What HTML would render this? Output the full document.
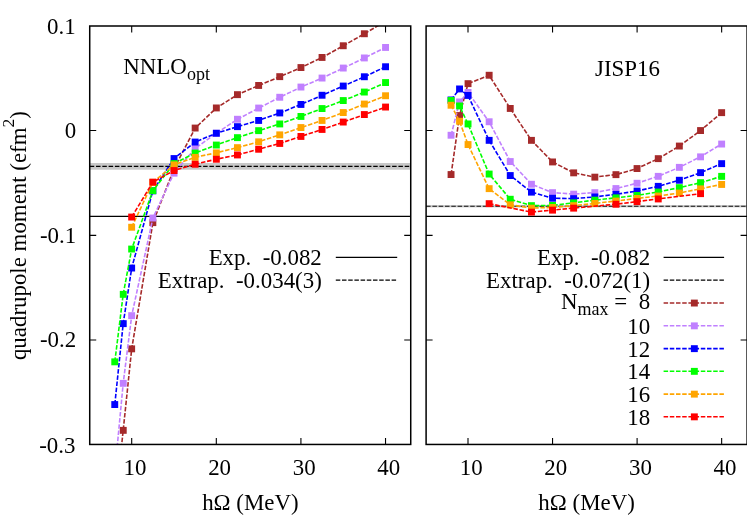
<!DOCTYPE html>
<html><head><meta charset="utf-8"><title>chart</title><style>html,body{margin:0;padding:0;background:#fff}body{width:747px;height:523px;overflow:hidden;font-family:"Liberation Serif",serif}</style></head><body>
<svg width="747" height="523" viewBox="0 0 747 523" style="display:block;will-change:transform" font-family="'Liberation Serif', serif" font-size="22.9" fill="#000">
<defs><clipPath id="cl"><rect x="89.72" y="26.00" width="321.01" height="418.45"/></clipPath><clipPath id="cr"><rect x="426.10" y="26.00" width="321.00" height="418.45"/></clipPath></defs>
<rect width="747" height="523" fill="#fff"/>
<rect x="89.72" y="163.0" width="321.01" height="6.7" fill="#c8c8c8"/>
<path d="M89.72 216.4 H410.73" stroke="#000" stroke-width="1.2"/>
<path d="M89.72 166.4 H410.73" stroke="#000" stroke-width="1.2" stroke-dasharray="4.5 1.8"/>
<path d="M426.10 216.4 H747.10" stroke="#000" stroke-width="1.2"/>
<rect x="426.10" y="205.15" width="321.00" height="2.2" fill="#c8c8c8"/>
<path d="M426.10 206.25 H747.10" stroke="#111" stroke-width="1.2" stroke-dasharray="4.5 1.8"/>
<g clip-path="url(#cl)">
<path d="M114.8 510.0 L123.2 430.3 L131.7 348.8 L152.9 222.7 L174.0 168.7 L195.2 128.1 L216.3 108.0 L237.5 94.7 L258.6 85.5 L279.8 76.7 L300.9 67.6 L322.1 57.5 L343.2 45.8 L364.4 33.8 L385.5 21.2" fill="none" stroke="#a52a2a" stroke-width="1.6" stroke-dasharray="4.5 1.7"/>
<rect x="111.3" y="506.6" width="6.9" height="6.9" fill="#a52a2a"/>
<rect x="119.8" y="426.9" width="6.9" height="6.9" fill="#a52a2a"/>
<rect x="128.2" y="345.4" width="6.9" height="6.9" fill="#a52a2a"/>
<rect x="149.4" y="219.2" width="6.9" height="6.9" fill="#a52a2a"/>
<rect x="170.6" y="165.2" width="6.9" height="6.9" fill="#a52a2a"/>
<rect x="191.7" y="124.6" width="6.9" height="6.9" fill="#a52a2a"/>
<rect x="212.9" y="104.5" width="6.9" height="6.9" fill="#a52a2a"/>
<rect x="234.0" y="91.2" width="6.9" height="6.9" fill="#a52a2a"/>
<rect x="255.2" y="82.0" width="6.9" height="6.9" fill="#a52a2a"/>
<rect x="276.3" y="73.2" width="6.9" height="6.9" fill="#a52a2a"/>
<rect x="297.5" y="64.1" width="6.9" height="6.9" fill="#a52a2a"/>
<rect x="318.6" y="54.0" width="6.9" height="6.9" fill="#a52a2a"/>
<rect x="339.8" y="42.3" width="6.9" height="6.9" fill="#a52a2a"/>
<rect x="360.9" y="30.3" width="6.9" height="6.9" fill="#a52a2a"/>
<rect x="382.1" y="17.8" width="6.9" height="6.9" fill="#a52a2a"/>
</g>
<g clip-path="url(#cl)">
<path d="M114.8 472.0 L123.2 383.3 L131.7 315.6 L152.9 218.0 L174.0 173.1 L195.2 148.4 L216.3 133.2 L237.5 119.3 L258.6 108.1 L279.8 97.3 L300.9 87.1 L322.1 78.1 L343.2 68.1 L364.4 58.0 L385.5 47.5" fill="none" stroke="#c080ff" stroke-width="1.6" stroke-dasharray="4.5 1.7"/>
<rect x="111.3" y="468.6" width="6.9" height="6.9" fill="#c080ff"/>
<rect x="119.8" y="379.9" width="6.9" height="6.9" fill="#c080ff"/>
<rect x="128.2" y="312.2" width="6.9" height="6.9" fill="#c080ff"/>
<rect x="149.4" y="214.6" width="6.9" height="6.9" fill="#c080ff"/>
<rect x="170.6" y="169.7" width="6.9" height="6.9" fill="#c080ff"/>
<rect x="191.7" y="145.0" width="6.9" height="6.9" fill="#c080ff"/>
<rect x="212.9" y="129.8" width="6.9" height="6.9" fill="#c080ff"/>
<rect x="234.0" y="115.8" width="6.9" height="6.9" fill="#c080ff"/>
<rect x="255.2" y="104.6" width="6.9" height="6.9" fill="#c080ff"/>
<rect x="276.3" y="93.8" width="6.9" height="6.9" fill="#c080ff"/>
<rect x="297.5" y="83.6" width="6.9" height="6.9" fill="#c080ff"/>
<rect x="318.6" y="74.6" width="6.9" height="6.9" fill="#c080ff"/>
<rect x="339.8" y="64.6" width="6.9" height="6.9" fill="#c080ff"/>
<rect x="360.9" y="54.5" width="6.9" height="6.9" fill="#c080ff"/>
<rect x="382.1" y="44.0" width="6.9" height="6.9" fill="#c080ff"/>
</g>
<g clip-path="url(#cl)">
<path d="M114.8 404.5 L123.2 323.6 L131.7 268.0 L152.9 190.8 L174.0 158.5 L195.2 142.0 L216.3 133.2 L237.5 126.7 L258.6 120.4 L279.8 113.0 L300.9 104.4 L322.1 95.3 L343.2 86.1 L364.4 76.8 L385.5 66.8" fill="none" stroke="#0000ff" stroke-width="1.6" stroke-dasharray="4.5 1.7"/>
<rect x="111.3" y="401.1" width="6.9" height="6.9" fill="#0000ff"/>
<rect x="119.8" y="320.2" width="6.9" height="6.9" fill="#0000ff"/>
<rect x="128.2" y="264.6" width="6.9" height="6.9" fill="#0000ff"/>
<rect x="149.4" y="187.4" width="6.9" height="6.9" fill="#0000ff"/>
<rect x="170.6" y="155.1" width="6.9" height="6.9" fill="#0000ff"/>
<rect x="191.7" y="138.6" width="6.9" height="6.9" fill="#0000ff"/>
<rect x="212.9" y="129.8" width="6.9" height="6.9" fill="#0000ff"/>
<rect x="234.0" y="123.2" width="6.9" height="6.9" fill="#0000ff"/>
<rect x="255.2" y="117.0" width="6.9" height="6.9" fill="#0000ff"/>
<rect x="276.3" y="109.5" width="6.9" height="6.9" fill="#0000ff"/>
<rect x="297.5" y="101.0" width="6.9" height="6.9" fill="#0000ff"/>
<rect x="318.6" y="91.8" width="6.9" height="6.9" fill="#0000ff"/>
<rect x="339.8" y="82.6" width="6.9" height="6.9" fill="#0000ff"/>
<rect x="360.9" y="73.3" width="6.9" height="6.9" fill="#0000ff"/>
<rect x="382.1" y="63.3" width="6.9" height="6.9" fill="#0000ff"/>
</g>
<g clip-path="url(#cl)">
<path d="M114.8 361.9 L123.2 294.3 L131.7 249.0 L152.9 190.7 L174.0 163.5 L195.2 153.0 L216.3 145.0 L237.5 137.6 L258.6 130.7 L279.8 123.9 L300.9 116.4 L322.1 108.6 L343.2 100.6 L364.4 92.1 L385.5 82.6" fill="none" stroke="#00ff00" stroke-width="1.6" stroke-dasharray="4.5 1.7"/>
<rect x="111.3" y="358.4" width="6.9" height="6.9" fill="#00ff00"/>
<rect x="119.8" y="290.9" width="6.9" height="6.9" fill="#00ff00"/>
<rect x="128.2" y="245.6" width="6.9" height="6.9" fill="#00ff00"/>
<rect x="149.4" y="187.2" width="6.9" height="6.9" fill="#00ff00"/>
<rect x="170.6" y="160.1" width="6.9" height="6.9" fill="#00ff00"/>
<rect x="191.7" y="149.6" width="6.9" height="6.9" fill="#00ff00"/>
<rect x="212.9" y="141.6" width="6.9" height="6.9" fill="#00ff00"/>
<rect x="234.0" y="134.2" width="6.9" height="6.9" fill="#00ff00"/>
<rect x="255.2" y="127.2" width="6.9" height="6.9" fill="#00ff00"/>
<rect x="276.3" y="120.5" width="6.9" height="6.9" fill="#00ff00"/>
<rect x="297.5" y="113.0" width="6.9" height="6.9" fill="#00ff00"/>
<rect x="318.6" y="105.1" width="6.9" height="6.9" fill="#00ff00"/>
<rect x="339.8" y="97.1" width="6.9" height="6.9" fill="#00ff00"/>
<rect x="360.9" y="88.6" width="6.9" height="6.9" fill="#00ff00"/>
<rect x="382.1" y="79.1" width="6.9" height="6.9" fill="#00ff00"/>
</g>
<g clip-path="url(#cl)">
<path d="M131.7 227.2 L152.9 182.3 L174.0 164.8 L195.2 157.3 L216.3 152.8 L237.5 147.6 L258.6 141.8 L279.8 134.8 L300.9 127.6 L322.1 120.4 L343.2 112.6 L364.4 104.1 L385.5 95.8" fill="none" stroke="#ffa500" stroke-width="1.6" stroke-dasharray="4.5 1.7"/>
<rect x="128.2" y="223.8" width="6.9" height="6.9" fill="#ffa500"/>
<rect x="149.4" y="178.9" width="6.9" height="6.9" fill="#ffa500"/>
<rect x="170.6" y="161.4" width="6.9" height="6.9" fill="#ffa500"/>
<rect x="191.7" y="153.9" width="6.9" height="6.9" fill="#ffa500"/>
<rect x="212.9" y="149.4" width="6.9" height="6.9" fill="#ffa500"/>
<rect x="234.0" y="144.2" width="6.9" height="6.9" fill="#ffa500"/>
<rect x="255.2" y="138.4" width="6.9" height="6.9" fill="#ffa500"/>
<rect x="276.3" y="131.4" width="6.9" height="6.9" fill="#ffa500"/>
<rect x="297.5" y="124.1" width="6.9" height="6.9" fill="#ffa500"/>
<rect x="318.6" y="117.0" width="6.9" height="6.9" fill="#ffa500"/>
<rect x="339.8" y="109.1" width="6.9" height="6.9" fill="#ffa500"/>
<rect x="360.9" y="100.6" width="6.9" height="6.9" fill="#ffa500"/>
<rect x="382.1" y="92.3" width="6.9" height="6.9" fill="#ffa500"/>
</g>
<g clip-path="url(#cl)">
<path d="M131.7 217.0 L152.9 182.1 L174.0 170.5 L195.2 164.2 L216.3 159.2 L237.5 154.9 L258.6 149.2 L279.8 143.4 L300.9 136.4 L322.1 129.4 L343.2 122.1 L364.4 114.6 L385.5 107.1" fill="none" stroke="#ff0000" stroke-width="1.6" stroke-dasharray="4.5 1.7"/>
<rect x="128.2" y="213.6" width="6.9" height="6.9" fill="#ff0000"/>
<rect x="149.4" y="178.7" width="6.9" height="6.9" fill="#ff0000"/>
<rect x="170.6" y="167.1" width="6.9" height="6.9" fill="#ff0000"/>
<rect x="191.7" y="160.8" width="6.9" height="6.9" fill="#ff0000"/>
<rect x="212.9" y="155.8" width="6.9" height="6.9" fill="#ff0000"/>
<rect x="234.0" y="151.5" width="6.9" height="6.9" fill="#ff0000"/>
<rect x="255.2" y="145.8" width="6.9" height="6.9" fill="#ff0000"/>
<rect x="276.3" y="140.0" width="6.9" height="6.9" fill="#ff0000"/>
<rect x="297.5" y="133.0" width="6.9" height="6.9" fill="#ff0000"/>
<rect x="318.6" y="126.0" width="6.9" height="6.9" fill="#ff0000"/>
<rect x="339.8" y="118.6" width="6.9" height="6.9" fill="#ff0000"/>
<rect x="360.9" y="111.1" width="6.9" height="6.9" fill="#ff0000"/>
<rect x="382.1" y="103.6" width="6.9" height="6.9" fill="#ff0000"/>
</g>
<g clip-path="url(#cr)">
<path d="M451.1 174.5 L459.5 115.6 L468.0 83.7 L489.1 75.3 L510.3 108.5 L531.4 140.3 L552.5 161.9 L573.7 172.8 L594.8 177.1 L616.0 174.6 L637.1 168.5 L658.2 158.7 L679.4 146.0 L700.5 130.6 L721.6 112.7" fill="none" stroke="#a52a2a" stroke-width="1.6" stroke-dasharray="4.5 1.7"/>
<rect x="447.6" y="171.1" width="6.9" height="6.9" fill="#a52a2a"/>
<rect x="456.1" y="112.1" width="6.9" height="6.9" fill="#a52a2a"/>
<rect x="464.6" y="80.2" width="6.9" height="6.9" fill="#a52a2a"/>
<rect x="485.7" y="71.8" width="6.9" height="6.9" fill="#a52a2a"/>
<rect x="506.8" y="105.0" width="6.9" height="6.9" fill="#a52a2a"/>
<rect x="528.0" y="136.9" width="6.9" height="6.9" fill="#a52a2a"/>
<rect x="549.1" y="158.5" width="6.9" height="6.9" fill="#a52a2a"/>
<rect x="570.2" y="169.4" width="6.9" height="6.9" fill="#a52a2a"/>
<rect x="591.4" y="173.7" width="6.9" height="6.9" fill="#a52a2a"/>
<rect x="612.5" y="171.2" width="6.9" height="6.9" fill="#a52a2a"/>
<rect x="633.6" y="165.1" width="6.9" height="6.9" fill="#a52a2a"/>
<rect x="654.8" y="155.2" width="6.9" height="6.9" fill="#a52a2a"/>
<rect x="675.9" y="142.6" width="6.9" height="6.9" fill="#a52a2a"/>
<rect x="697.1" y="127.1" width="6.9" height="6.9" fill="#a52a2a"/>
<rect x="718.2" y="109.2" width="6.9" height="6.9" fill="#a52a2a"/>
</g>
<g clip-path="url(#cr)">
<path d="M451.1 135.2 L459.5 101.9 L468.0 92.4 L489.1 121.8 L510.3 161.5 L531.4 184.2 L552.5 192.6 L573.7 194.1 L594.8 192.6 L616.0 188.5 L637.1 183.2 L658.2 176.3 L679.4 167.3 L700.5 156.8 L721.6 144.0" fill="none" stroke="#c080ff" stroke-width="1.6" stroke-dasharray="4.5 1.7"/>
<rect x="447.6" y="131.8" width="6.9" height="6.9" fill="#c080ff"/>
<rect x="456.1" y="98.5" width="6.9" height="6.9" fill="#c080ff"/>
<rect x="464.6" y="89.0" width="6.9" height="6.9" fill="#c080ff"/>
<rect x="485.7" y="118.3" width="6.9" height="6.9" fill="#c080ff"/>
<rect x="506.8" y="158.1" width="6.9" height="6.9" fill="#c080ff"/>
<rect x="528.0" y="180.8" width="6.9" height="6.9" fill="#c080ff"/>
<rect x="549.1" y="189.2" width="6.9" height="6.9" fill="#c080ff"/>
<rect x="570.2" y="190.7" width="6.9" height="6.9" fill="#c080ff"/>
<rect x="591.4" y="189.2" width="6.9" height="6.9" fill="#c080ff"/>
<rect x="612.5" y="185.1" width="6.9" height="6.9" fill="#c080ff"/>
<rect x="633.6" y="179.8" width="6.9" height="6.9" fill="#c080ff"/>
<rect x="654.8" y="172.9" width="6.9" height="6.9" fill="#c080ff"/>
<rect x="675.9" y="163.9" width="6.9" height="6.9" fill="#c080ff"/>
<rect x="697.1" y="153.4" width="6.9" height="6.9" fill="#c080ff"/>
<rect x="718.2" y="140.6" width="6.9" height="6.9" fill="#c080ff"/>
</g>
<g clip-path="url(#cr)">
<path d="M451.1 100.0 L459.5 89.0 L468.0 95.5 L489.1 140.3 L510.3 175.5 L531.4 192.1 L552.5 198.2 L573.7 198.6 L594.8 196.9 L616.0 194.3 L637.1 191.0 L658.2 186.3 L679.4 180.2 L700.5 172.7 L721.6 163.6" fill="none" stroke="#0000ff" stroke-width="1.6" stroke-dasharray="4.5 1.7"/>
<rect x="447.6" y="96.5" width="6.9" height="6.9" fill="#0000ff"/>
<rect x="456.1" y="85.5" width="6.9" height="6.9" fill="#0000ff"/>
<rect x="464.6" y="92.0" width="6.9" height="6.9" fill="#0000ff"/>
<rect x="485.7" y="136.9" width="6.9" height="6.9" fill="#0000ff"/>
<rect x="506.8" y="172.1" width="6.9" height="6.9" fill="#0000ff"/>
<rect x="528.0" y="188.7" width="6.9" height="6.9" fill="#0000ff"/>
<rect x="549.1" y="194.8" width="6.9" height="6.9" fill="#0000ff"/>
<rect x="570.2" y="195.2" width="6.9" height="6.9" fill="#0000ff"/>
<rect x="591.4" y="193.5" width="6.9" height="6.9" fill="#0000ff"/>
<rect x="612.5" y="190.9" width="6.9" height="6.9" fill="#0000ff"/>
<rect x="633.6" y="187.6" width="6.9" height="6.9" fill="#0000ff"/>
<rect x="654.8" y="182.9" width="6.9" height="6.9" fill="#0000ff"/>
<rect x="675.9" y="176.8" width="6.9" height="6.9" fill="#0000ff"/>
<rect x="697.1" y="169.2" width="6.9" height="6.9" fill="#0000ff"/>
<rect x="718.2" y="160.2" width="6.9" height="6.9" fill="#0000ff"/>
</g>
<g clip-path="url(#cr)">
<path d="M451.1 100.4 L459.5 106.0 L468.0 124.0 L489.1 174.0 L510.3 199.2 L531.4 205.7 L552.5 205.4 L573.7 202.8 L594.8 200.1 L616.0 197.8 L637.1 195.4 L658.2 192.0 L679.4 187.6 L700.5 182.7 L721.6 176.3" fill="none" stroke="#00ff00" stroke-width="1.6" stroke-dasharray="4.5 1.7"/>
<rect x="447.6" y="97.0" width="6.9" height="6.9" fill="#00ff00"/>
<rect x="456.1" y="102.5" width="6.9" height="6.9" fill="#00ff00"/>
<rect x="464.6" y="120.5" width="6.9" height="6.9" fill="#00ff00"/>
<rect x="485.7" y="170.6" width="6.9" height="6.9" fill="#00ff00"/>
<rect x="506.8" y="195.8" width="6.9" height="6.9" fill="#00ff00"/>
<rect x="528.0" y="202.2" width="6.9" height="6.9" fill="#00ff00"/>
<rect x="549.1" y="202.0" width="6.9" height="6.9" fill="#00ff00"/>
<rect x="570.2" y="199.4" width="6.9" height="6.9" fill="#00ff00"/>
<rect x="591.4" y="196.7" width="6.9" height="6.9" fill="#00ff00"/>
<rect x="612.5" y="194.4" width="6.9" height="6.9" fill="#00ff00"/>
<rect x="633.6" y="192.0" width="6.9" height="6.9" fill="#00ff00"/>
<rect x="654.8" y="188.6" width="6.9" height="6.9" fill="#00ff00"/>
<rect x="675.9" y="184.2" width="6.9" height="6.9" fill="#00ff00"/>
<rect x="697.1" y="179.2" width="6.9" height="6.9" fill="#00ff00"/>
<rect x="718.2" y="172.9" width="6.9" height="6.9" fill="#00ff00"/>
</g>
<g clip-path="url(#cr)">
<path d="M451.1 105.2 L459.5 121.2 L468.0 144.5 L489.1 188.7 L510.3 204.8 L531.4 208.1 L552.5 207.4 L573.7 205.6 L594.8 203.4 L616.0 201.0 L637.1 198.4 L658.2 196.0 L679.4 193.0 L700.5 188.8 L721.6 184.4" fill="none" stroke="#ffa500" stroke-width="1.6" stroke-dasharray="4.5 1.7"/>
<rect x="447.6" y="101.8" width="6.9" height="6.9" fill="#ffa500"/>
<rect x="456.1" y="117.8" width="6.9" height="6.9" fill="#ffa500"/>
<rect x="464.6" y="141.1" width="6.9" height="6.9" fill="#ffa500"/>
<rect x="485.7" y="185.2" width="6.9" height="6.9" fill="#ffa500"/>
<rect x="506.8" y="201.4" width="6.9" height="6.9" fill="#ffa500"/>
<rect x="528.0" y="204.7" width="6.9" height="6.9" fill="#ffa500"/>
<rect x="549.1" y="204.0" width="6.9" height="6.9" fill="#ffa500"/>
<rect x="570.2" y="202.2" width="6.9" height="6.9" fill="#ffa500"/>
<rect x="591.4" y="200.0" width="6.9" height="6.9" fill="#ffa500"/>
<rect x="612.5" y="197.6" width="6.9" height="6.9" fill="#ffa500"/>
<rect x="633.6" y="195.0" width="6.9" height="6.9" fill="#ffa500"/>
<rect x="654.8" y="192.6" width="6.9" height="6.9" fill="#ffa500"/>
<rect x="675.9" y="189.6" width="6.9" height="6.9" fill="#ffa500"/>
<rect x="697.1" y="185.4" width="6.9" height="6.9" fill="#ffa500"/>
<rect x="718.2" y="181.0" width="6.9" height="6.9" fill="#ffa500"/>
</g>
<g clip-path="url(#cr)">
<path d="M489.1 203.7 L531.4 212.1 L552.5 210.1 L573.7 208.1 L616.0 204.2 L637.1 201.6 L658.2 198.9 L700.5 193.7" fill="none" stroke="#ff0000" stroke-width="1.6" stroke-dasharray="4.5 1.7"/>
<rect x="485.7" y="200.2" width="6.9" height="6.9" fill="#ff0000"/>
<rect x="528.0" y="208.7" width="6.9" height="6.9" fill="#ff0000"/>
<rect x="549.1" y="206.7" width="6.9" height="6.9" fill="#ff0000"/>
<rect x="570.2" y="204.7" width="6.9" height="6.9" fill="#ff0000"/>
<rect x="612.5" y="200.8" width="6.9" height="6.9" fill="#ff0000"/>
<rect x="633.6" y="198.2" width="6.9" height="6.9" fill="#ff0000"/>
<rect x="654.8" y="195.5" width="6.9" height="6.9" fill="#ff0000"/>
<rect x="697.1" y="190.2" width="6.9" height="6.9" fill="#ff0000"/>
</g>
<rect x="89.72" y="26.00" width="321.01" height="418.45" fill="none" stroke="#000" stroke-width="1.5"/>
<path d="M131.70 444.45 v-6.5 M131.70 26.00 v6.5" stroke="#000" stroke-width="1.1"/>
<path d="M216.31 444.45 v-6.5 M216.31 26.00 v6.5" stroke="#000" stroke-width="1.1"/>
<path d="M300.92 444.45 v-6.5 M300.92 26.00 v6.5" stroke="#000" stroke-width="1.1"/>
<path d="M385.53 444.45 v-6.5 M385.53 26.00 v6.5" stroke="#000" stroke-width="1.1"/>
<path d="M89.72 130.57 h6.5 M410.73 130.57 h-6.5" stroke="#000" stroke-width="1.1"/>
<path d="M89.72 235.42 h6.5 M410.73 235.42 h-6.5" stroke="#000" stroke-width="1.1"/>
<path d="M89.72 340.03 h6.5 M410.73 340.03 h-6.5" stroke="#000" stroke-width="1.1"/>
<rect x="426.10" y="26.00" width="321.00" height="418.45" fill="none" stroke="#000" stroke-width="1.5"/>
<path d="M468.00 444.45 v-6.5 M468.00 26.00 v6.5" stroke="#000" stroke-width="1.1"/>
<path d="M552.55 444.45 v-6.5 M552.55 26.00 v6.5" stroke="#000" stroke-width="1.1"/>
<path d="M637.10 444.45 v-6.5 M637.10 26.00 v6.5" stroke="#000" stroke-width="1.1"/>
<path d="M721.65 444.45 v-6.5 M721.65 26.00 v6.5" stroke="#000" stroke-width="1.1"/>
<path d="M426.10 130.57 h6.5 M747.10 130.57 h-6.5" stroke="#000" stroke-width="1.1"/>
<path d="M426.10 235.42 h6.5 M747.10 235.42 h-6.5" stroke="#000" stroke-width="1.1"/>
<path d="M426.10 340.03 h6.5 M747.10 340.03 h-6.5" stroke="#000" stroke-width="1.1"/>
<text x="75.6" y="33.6" text-anchor="end">0.1</text>
<text x="76.2" y="138.2" text-anchor="end">0</text>
<text x="76.2" y="242.8" text-anchor="end">-0.1</text>
<text x="76.2" y="347.4" text-anchor="end">-0.2</text>
<text x="75.4" y="452.8" text-anchor="end">-0.3</text>
<text x="135.0" y="474.8" text-anchor="middle">10</text>
<text x="219.6" y="474.8" text-anchor="middle">20</text>
<text x="304.2" y="474.8" text-anchor="middle">30</text>
<text x="388.8" y="474.8" text-anchor="middle">40</text>
<text x="471.3" y="474.8" text-anchor="middle">10</text>
<text x="555.8" y="474.8" text-anchor="middle">20</text>
<text x="640.4" y="474.8" text-anchor="middle">30</text>
<text x="724.9" y="474.8" text-anchor="middle">40</text>
<text x="250.4" y="510" text-anchor="middle">hΩ (MeV)</text>
<text x="586.6" y="510" text-anchor="middle">hΩ (MeV)</text>
<text transform="translate(26.1 235.6) rotate(-90)" text-anchor="middle">quadrupole moment (efm<tspan dy="-12.5" font-size="17.5">2</tspan><tspan dy="12.5">)</tspan></text>
<text x="123.3" y="73.5">NNLO<tspan dy="6.8" font-size="18">opt</tspan></text>
<text x="595.1" y="76">JISP16</text>
<text x="321.8" y="264.6" text-anchor="end" xml:space="preserve">Exp.  -0.082</text>
<path d="M335.8 257.4 H397.2" stroke="#000" stroke-width="1.1"/>
<text x="321.8" y="288.1" text-anchor="end" xml:space="preserve">Extrap.  -0.034(3)</text>
<path d="M335.8 280.2 H397.2" stroke="#000" stroke-width="1.2" stroke-dasharray="4.5 1.7"/>
<text x="650.1" y="264.6" text-anchor="end" xml:space="preserve">Exp.  -0.082</text>
<path d="M663.6 257.4 H724.1" stroke="#000" stroke-width="1.1"/>
<text x="650.1" y="288.1" text-anchor="end" xml:space="preserve">Extrap.  -0.072(1)</text>
<path d="M663.6 280.2 H724.1" stroke="#000" stroke-width="1.2" stroke-dasharray="4.5 1.7"/>
<text x="650.1" y="309.2" text-anchor="end" xml:space="preserve">N<tspan dy="5.5" font-size="18">max</tspan><tspan dy="-5.5"> =  8</tspan></text>
<path d="M663.6 303.0 H724.1" stroke="#a52a2a" stroke-width="1.6" stroke-dasharray="4.5 1.7"/>
<rect x="690.9" y="299.6" width="6.9" height="6.9" fill="#a52a2a"/>
<text x="650.1" y="333.8" text-anchor="end" xml:space="preserve">10</text>
<path d="M663.6 325.8 H724.1" stroke="#c080ff" stroke-width="1.6" stroke-dasharray="4.5 1.7"/>
<rect x="690.9" y="322.4" width="6.9" height="6.9" fill="#c080ff"/>
<text x="650.1" y="356.6" text-anchor="end" xml:space="preserve">12</text>
<path d="M663.6 348.6 H724.1" stroke="#0000ff" stroke-width="1.6" stroke-dasharray="4.5 1.7"/>
<rect x="690.9" y="345.2" width="6.9" height="6.9" fill="#0000ff"/>
<text x="650.1" y="379.3" text-anchor="end" xml:space="preserve">14</text>
<path d="M663.6 371.3 H724.1" stroke="#00ff00" stroke-width="1.6" stroke-dasharray="4.5 1.7"/>
<rect x="690.9" y="367.9" width="6.9" height="6.9" fill="#00ff00"/>
<text x="650.1" y="402.1" text-anchor="end" xml:space="preserve">16</text>
<path d="M663.6 394.1 H724.1" stroke="#ffa500" stroke-width="1.6" stroke-dasharray="4.5 1.7"/>
<rect x="690.9" y="390.7" width="6.9" height="6.9" fill="#ffa500"/>
<text x="650.1" y="424.8" text-anchor="end" xml:space="preserve">18</text>
<path d="M663.6 416.8 H724.1" stroke="#ff0000" stroke-width="1.6" stroke-dasharray="4.5 1.7"/>
<rect x="690.9" y="413.4" width="6.9" height="6.9" fill="#ff0000"/>
</svg>
</body></html>
